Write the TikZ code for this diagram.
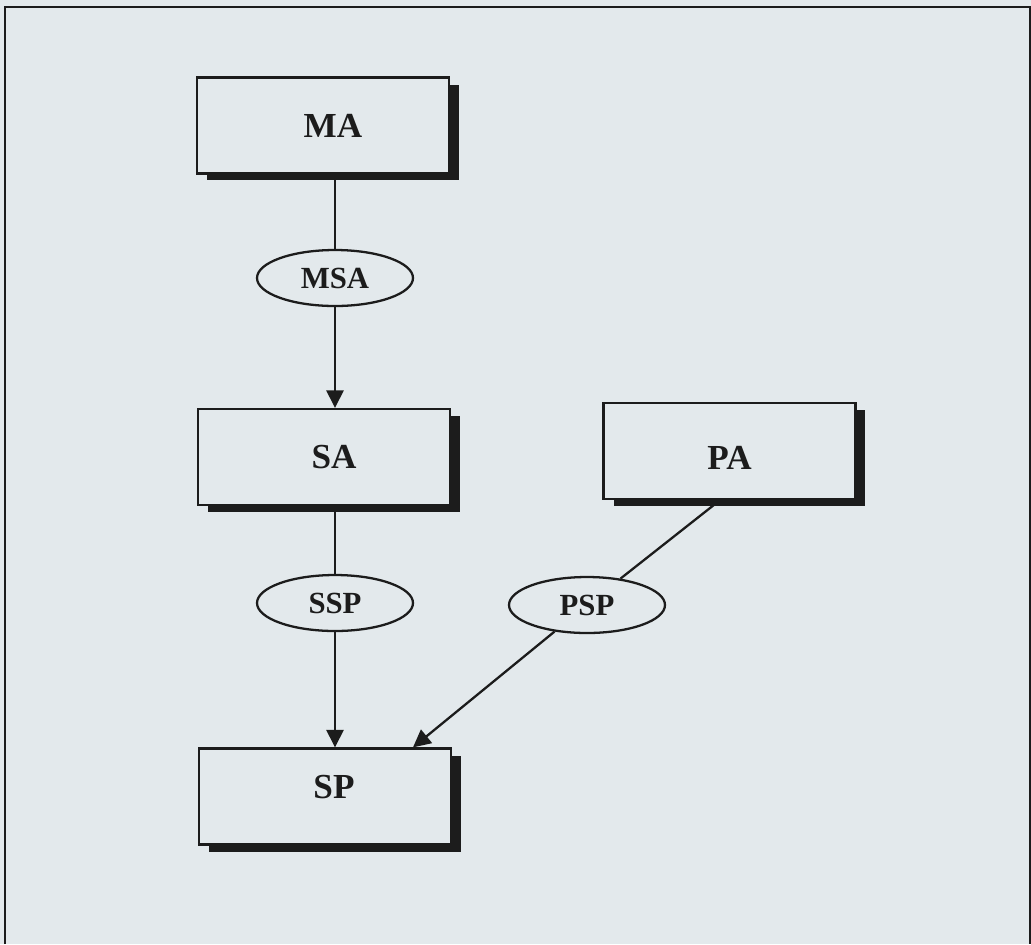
\documentclass[tikz,border=0pt]{standalone}
\usepackage{fontspec}
\setmainfont{Liberation Serif}
\usepackage{tikz}
\usetikzlibrary{arrows.meta,shapes.geometric,shadows}
\definecolor{paper}{RGB}{227,233,236}
\definecolor{ink}{RGB}{28,28,28}

\begin{document}
\begin{tikzpicture}[x=0.02cm,y=-0.02cm,
  line width=1.3pt, draw=ink,
  agent/.style={draw=ink, line width=1.3pt, fill=paper, rectangle, minimum width=5.04cm, minimum height=1.92cm,
    inner sep=0pt, drop shadow={shadow xshift=0.2cm, shadow yshift=-0.14cm, fill=ink, opacity=1}},
  agentlbl/.style={font=\bfseries\fontsize{20}{24}\selectfont, text=ink, inner sep=0pt},
  assoc/.style={draw=ink, line width=1.3pt, fill=paper, ellipse, minimum width=3.12cm, minimum height=1.12cm,
    inner sep=0pt, font=\bfseries\fontsize{17.5}{21}\selectfont, text=ink},
  arr/.style={-{Triangle[length=10pt,width=9.8pt]}}]
\useasboundingbox[fill=paper] (0,0) rectangle (1031,944);
\draw (5,944) -- (5,7) -- (1030,7) -- (1030,944);

\node[agent, label={[agentlbl, xshift=0.2cm]center:MA}] (ma) at (323,125.5) {};
\node[agent, label={[agentlbl, xshift=0.2cm]center:SA}] (sa) at (324,457) {};
\node[agent, label={[agentlbl, yshift=-0.14cm]center:PA}] (pa) at (729.5,451) {};
\node[agent, label={[agentlbl, xshift=0.18cm, yshift=0.19cm]center:SP}] (sp) at (325,796.5) {};

\node[assoc] (msa) at (335,278) {MSA};
\node[assoc] (ssp) at (335,603) {SSP};
\node[assoc] (psp) at (587,605) {PSP};

\coordinate (pafoot) at ([xshift=-0.19cm]pa.south);
\coordinate (sphead) at ([xshift=1.76cm]sp.north);

\draw (ma.south -| msa.north) -- (msa.north);
\draw[arr] (msa.south) -- (msa.south |- sa.north);
\draw (sa.south -| ssp.north) -- (ssp.north);
\draw[arr] (ssp.south) -- (ssp.south |- sp.north);
\draw (pafoot) -- (psp);
\draw[arr] (psp) -- (sphead);
\end{tikzpicture}
\end{document}
